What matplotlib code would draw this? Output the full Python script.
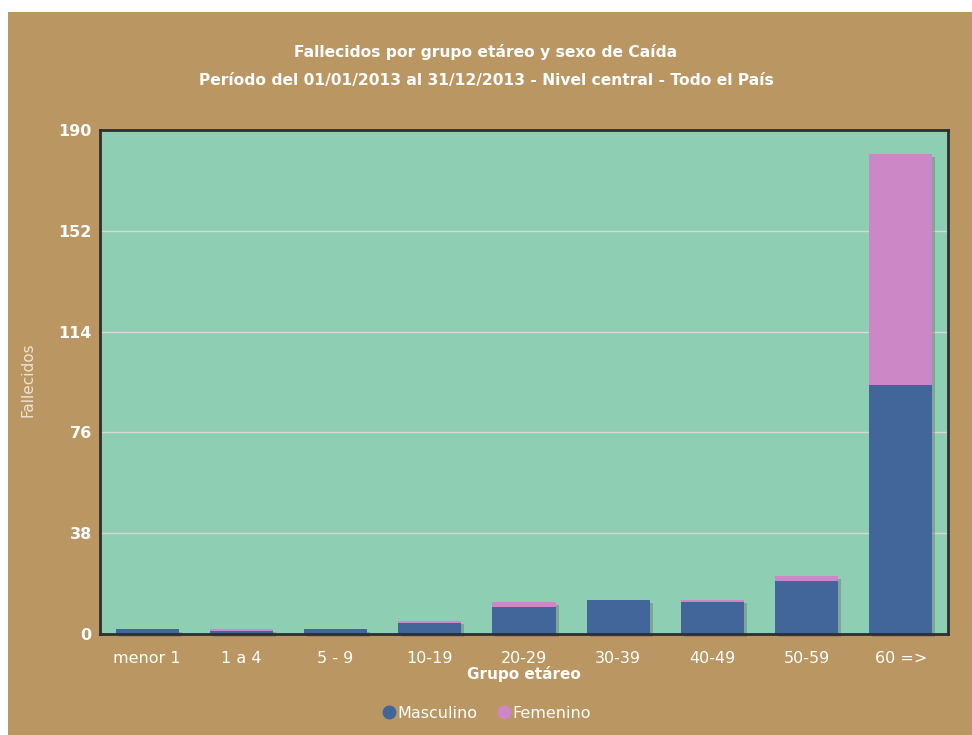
import matplotlib
matplotlib.use("Agg")
import matplotlib.pyplot as plt
import matplotlib.transforms as mtransforms
from matplotlib.patches import Rectangle
from matplotlib.lines import Line2D
import numpy as np

grupos = ['menor 1', '1 a 4', '5 - 9', '10-19', '20-29', '30-39', '40-49', '50-59', '60 =>']
masculino = [2, 1, 2, 4, 10, 13, 12, 20, 94]
femenino = [0, 1, 0, 1, 2, 0, 1, 2, 87]
yticks = [0, 38, 76, 114, 152, 190]

brown = '#BA9662'
green = '#8ECFB4'
blue = '#426699'
pink = '#CC88C6'

fig = plt.figure(figsize=(9.72, 7.35), dpi=100)
fig.patch.set_facecolor('white')
fig.patches.append(Rectangle((8 / 972, 0), 1, 1 - 12 / 735, transform=fig.transFigure,
                             facecolor=brown, edgecolor='none', zorder=-10))

ax = fig.add_axes([100 / 972, 1 - 634 / 735, 848 / 972, 504 / 735])
ax.set_facecolor(green)

x = np.arange(len(grupos))
m = np.array(masculino)
f = np.array(femenino)
w = 0.67

# sombra de las barras
shadow = mtransforms.offset_copy(ax.transData, fig=fig, x=3, y=-3, units='dots')
ax.bar(x, m + f, w, color='#707070', alpha=0.45, transform=shadow, zorder=2, clip_on=False)

ax.bar(x, m, w, color=blue, zorder=3)
ax.bar(x, f, w, bottom=m, color=pink, zorder=3)

ax.set_xlim(-0.5, len(grupos) - 0.5)
ax.set_ylim(0, 190)
ax.set_yticks(yticks)
ax.set_xticks(x)
ax.set_xticklabels(grupos)
ax.yaxis.grid(True, color='#d8d8d8', linewidth=1)
ax.set_axisbelow(True)
ax.tick_params(length=0, colors='white', labelsize=11.5)
ax.tick_params(axis='x', pad=12)
ax.tick_params(axis='y', pad=6)
for lbl in ax.get_yticklabels():
    lbl.set_fontweight('bold')
for s in ax.spines.values():
    s.set_color('#2e2e2e')
    s.set_linewidth(2)
    s.set_zorder(4)

ax.set_xlabel('Grupo etáreo', color='white', fontweight='bold', fontsize=11, labelpad=0)
fig.text(28 / 972, 1 - 380 / 735, 'Fallecidos', color='#efe4d2', fontsize=11,
         rotation=90, ha='center', va='center')

fig.text(0.5, 1 - 52 / 735, 'Fallecidos por grupo etáreo y sexo de Caída', color='white',
         fontsize=11.2, fontweight='bold', ha='center', va='center')
fig.text(0.5, 1 - 80 / 735, 'Período del 01/01/2013 al 31/12/2013 - Nivel central - Todo el País',
         color='white', fontsize=11.2, fontweight='bold', ha='center', va='center')

handles = [Line2D([], [], marker='o', linestyle='none', color=blue, markersize=9),
           Line2D([], [], marker='o', linestyle='none', color=pink, markersize=9)]
leg = fig.legend(handles, ['Masculino', 'Femenino'], loc='center', bbox_to_anchor=(0.5, 1 - 713 / 735),
                 ncol=2, frameon=False, handletextpad=0.0, columnspacing=1.2, fontsize=11.5,
                 handlelength=1.0)
for t in leg.get_texts():
    t.set_color('white')

fig.savefig('out.png', dpi=100, facecolor=fig.get_facecolor())
